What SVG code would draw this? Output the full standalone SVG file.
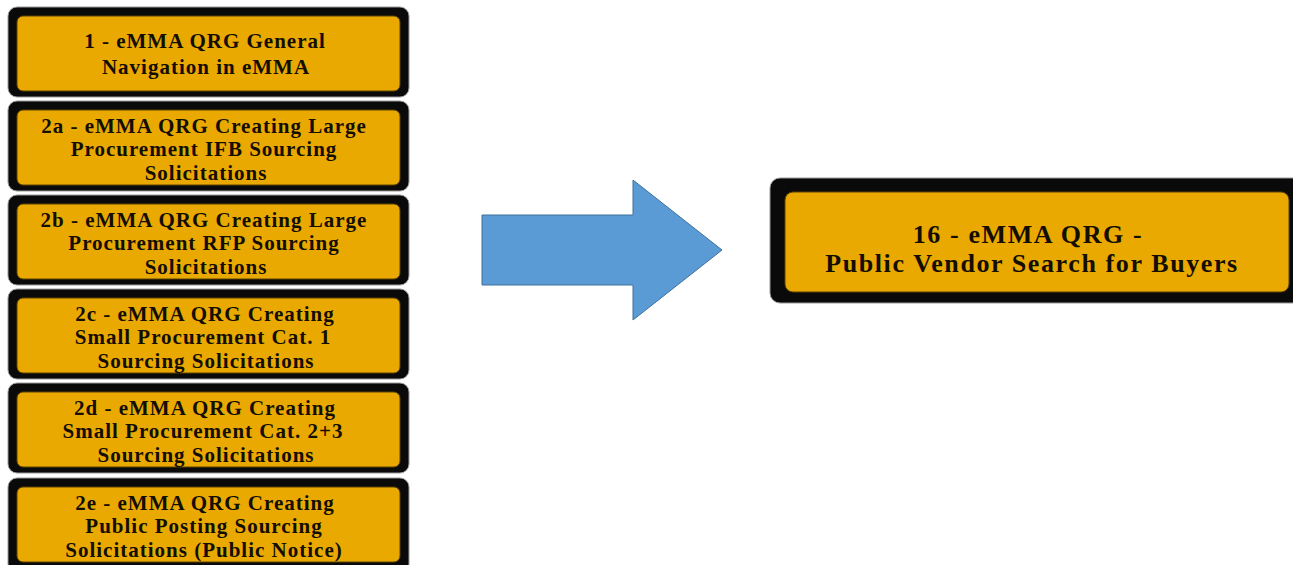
<svg xmlns="http://www.w3.org/2000/svg" width="1293" height="565" viewBox="0 0 1293 565">
<style>
.outer{fill:#0a0a0a;stroke:#9a9a9a;stroke-width:1}
.inner{fill:#E9A900;stroke:#5a4300;stroke-width:1}
.t{font-family:"Liberation Serif",serif;font-weight:bold;fill:#140e00;text-anchor:middle}
.s{font-size:21px;letter-spacing:1px}
.b{font-size:26px;letter-spacing:1.6px}
</style>
<rect width="1293" height="565" fill="#fff"/>
<g id="n1">
<rect class="outer" x="8" y="7" width="401" height="90" rx="9"/>
<rect class="inner" x="17" y="16" width="383" height="75" rx="6"/>
<text class="t s" x="205" y="48">1 - eMMA QRG General</text>
<text class="t s" x="206" y="74">Navigation in eMMA</text>
</g>
<g id="n2a">
<rect class="outer" x="8" y="101" width="401" height="90" rx="9"/>
<rect class="inner" x="17" y="110" width="383" height="75" rx="6"/>
<text class="t s" x="204" y="132.5">2a - eMMA QRG Creating Large</text>
<text class="t s" x="204" y="156">Procurement IFB Sourcing</text>
<text class="t s" x="206" y="179.5">Solicitations</text>
</g>
<g id="n2b">
<rect class="outer" x="8" y="195" width="401" height="90" rx="9"/>
<rect class="inner" x="17" y="204" width="383" height="75" rx="6"/>
<text class="t s" x="204" y="226.5">2b - eMMA QRG Creating Large</text>
<text class="t s" x="204" y="250">Procurement RFP Sourcing</text>
<text class="t s" x="206" y="273.5">Solicitations</text>
</g>
<g id="n2c">
<rect class="outer" x="8" y="289" width="401" height="90" rx="9"/>
<rect class="inner" x="17" y="298" width="383" height="75" rx="6"/>
<text class="t s" x="205" y="320.5">2c - eMMA QRG Creating</text>
<text class="t s" x="203" y="344">Small Procurement Cat. 1</text>
<text class="t s" x="206" y="367.5">Sourcing Solicitations</text>
</g>
<g id="n2d">
<rect class="outer" x="8" y="383" width="401" height="90" rx="9"/>
<rect class="inner" x="17" y="392" width="383" height="75" rx="6"/>
<text class="t s" x="205" y="414.5">2d - eMMA QRG Creating</text>
<text class="t s" x="203" y="438">Small Procurement Cat. 2+3</text>
<text class="t s" x="206" y="461.5">Sourcing Solicitations</text>
</g>
<g id="n2e">
<rect class="outer" x="8" y="478" width="401" height="95" rx="9"/>
<rect class="inner" x="17" y="487" width="383" height="75" rx="6"/>
<text class="t s" x="205" y="509.5">2e - eMMA QRG Creating</text>
<text class="t s" x="204" y="533">Public Posting Sourcing</text>
<text class="t s" x="204" y="556.5">Solicitations (Public Notice)</text>
</g>
<g id="connectors">
<polygon points="482,215 633,215 633,180 722,250 633,320 633,285 482,285" fill="#5B9BD5" stroke="#41719C" stroke-width="1"/>
</g>
<g id="n16">
<rect class="outer" x="770" y="178" width="540" height="125" rx="10"/>
<rect class="inner" x="785" y="192" width="504" height="100" rx="8"/>
<text class="t b" x="1028" y="243">16 - eMMA QRG -</text>
<text class="t b" x="1032" y="272">Public Vendor Search for Buyers</text>
</g>
</svg>
